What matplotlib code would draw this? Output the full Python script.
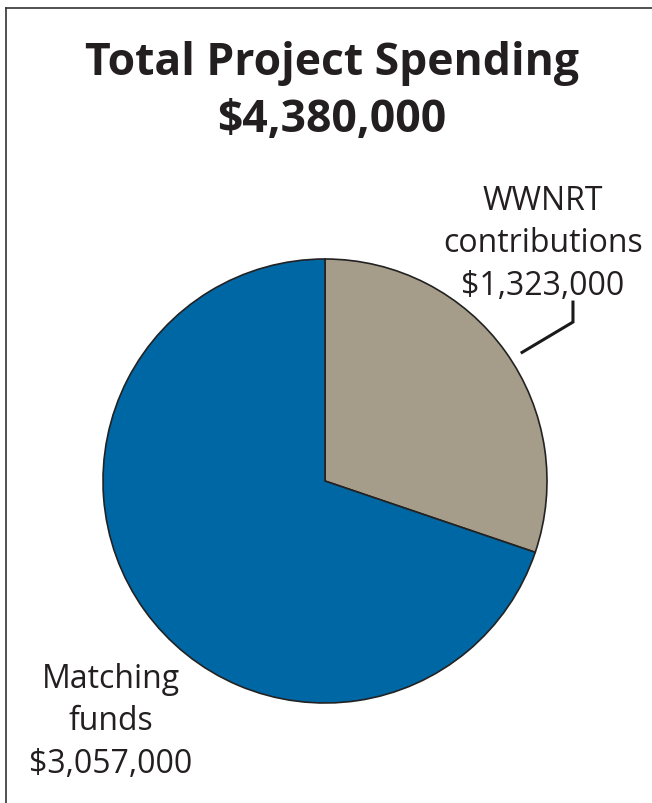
import numpy as np
import matplotlib
matplotlib.use("Agg")
from matplotlib import pyplot as plt
from matplotlib.lines import Line2D

labels = ["WWNRT\ncontributions\n$1,323,000", "Matching\nfunds\n$3,057,000"]
values = [1323000, 3057000]
colors = ["#a59d8a", "#0067a5"]
title = "Total Project Spending\n$4,380,000"

W, H = 652, 804
fig = plt.figure(figsize=(W / 100, H / 100), dpi=100)
plt.rcParams['font.family'] = ['Open Sans', 'DejaVu Sans']

# pie axes, circle from x=103..547, y=260..704 (pixels from top)
ax = fig.add_axes([103 / W, (H - 704) / H, 444 / W, 444 / H])
wedges, _ = ax.pie(values, colors=colors, startangle=90, counterclock=False,
                   radius=1, wedgeprops=dict(edgecolor="#222222", linewidth=1.2))
ax.set_xlim(-1, 1)
ax.set_ylim(-1, 1)
ax.set_aspect("equal")
ax.axis("off")

# leader line for the WWNRT slice
w = wedges[0]
mid = np.deg2rad((w.theta1 + w.theta2) / 2 - 2.5)
x0, y0 = 1.06 * np.cos(mid), 1.06 * np.sin(mid)
ax.plot([x0, 1.117, 1.117], [y0, 0.716, 0.806], color="#1a1a1a", lw=2.2,
        clip_on=False, solid_joinstyle="miter")

# slice labels
fig.text(543 / W, 1 - 244 / H, labels[0], ha="center", va="center",
         fontsize=23, color="#231f20", linespacing=1.37)
fig.text(111 / W, 1 - 722 / H, labels[1], ha="center", va="center",
         fontsize=23, color="#231f20", linespacing=1.37)

# title
fig.text(332 / W, 1 - 92 / H, title, ha="center", va="center",
         fontsize=32, fontweight="bold", color="#231f20", linespacing=1.36)

# frame (top and left only)
fig.add_artist(Line2D([6 / W, 6 / W], [0, 1 - 9 / H], transform=fig.transFigure,
                      color="#333333", lw=1.2))
fig.add_artist(Line2D([6 / W, 1], [1 - 9 / H, 1 - 9 / H], transform=fig.transFigure,
                      color="#333333", lw=1.2))

fig.savefig("out.png", dpi=100)
